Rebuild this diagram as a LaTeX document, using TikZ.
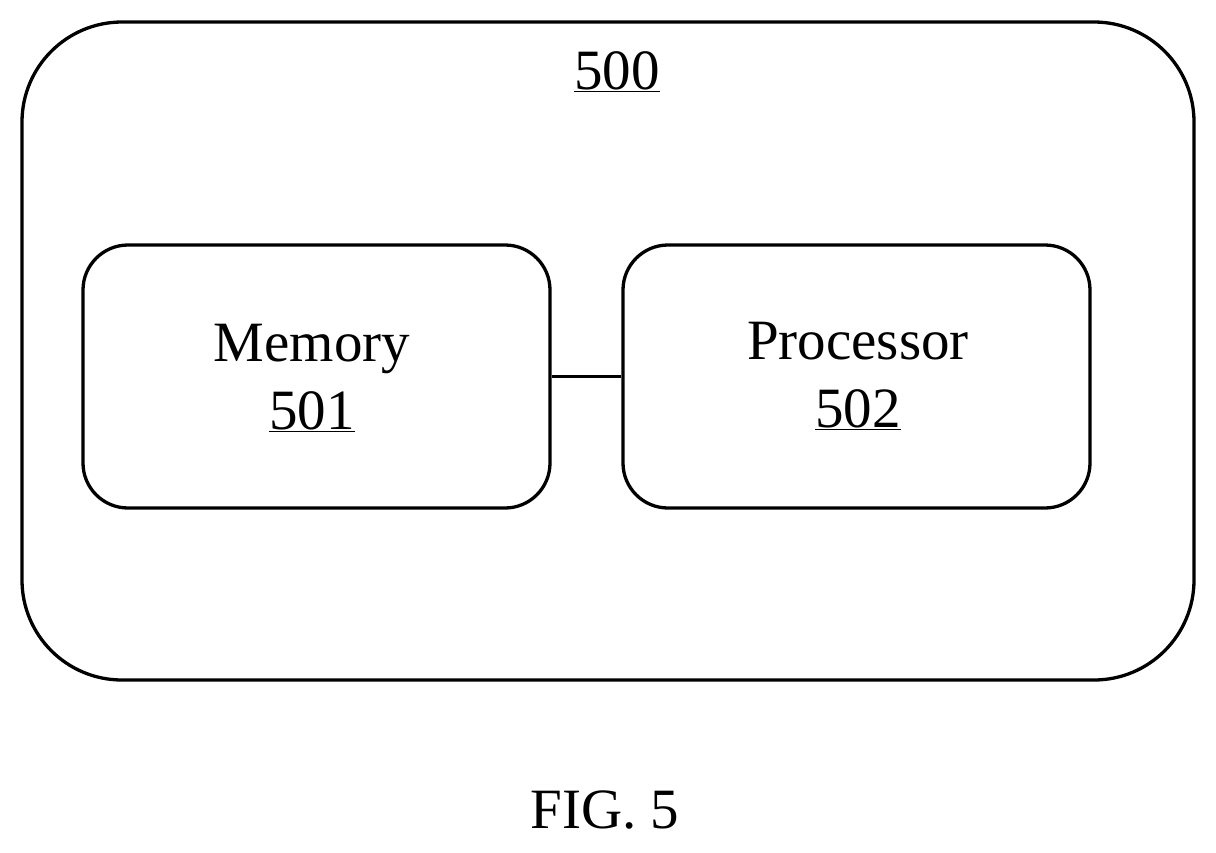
\documentclass[tikz,border=0pt]{standalone}
\usepackage{fontspec}
\setmainfont{Liberation Serif}
\begin{document}
\begin{tikzpicture}[x=1pt,y=-1pt,
  box/.style={draw,line width=3.3pt,rounded corners=45pt},
  lbl/.style={font=\fontsize{57}{68}\selectfont,align=center}]
\useasboundingbox (0,0) rectangle (1216,852);
\draw[line width=3.3pt,rounded corners=100pt] (22,22) rectangle (1194,680);
\node[lbl] (t500) at (617,72) {\underline{500}};
\node[box,minimum width=467pt,minimum height=263pt] (mem) at (316.5,376.5) {};
\node[box,minimum width=467pt,minimum height=263pt] (proc) at (856.5,376.5) {};
\node[lbl] (memt) at (312,378) {Memory\\\underline{501}};
\node[lbl] (proct) at (858,376) {Processor\\\underline{502}};
\draw[line width=3.3pt] (mem.east) -- (proc.west);
\node[lbl] (fig) at (605,810) {FIG. 5};
\end{tikzpicture}
\end{document}
